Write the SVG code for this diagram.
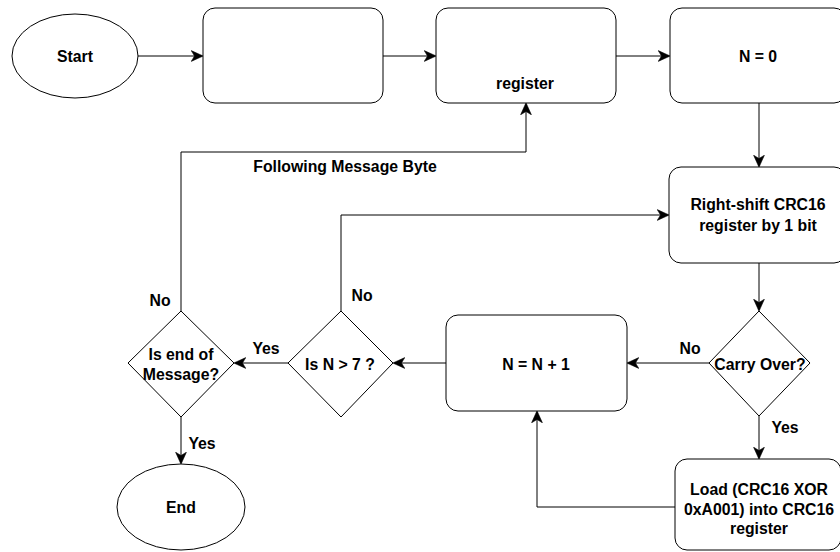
<svg xmlns="http://www.w3.org/2000/svg" width="840" height="552" viewBox="0 0 840 552">
  <style>
    .shape { fill: #ffffff; stroke: #000000; stroke-width: 1; }
    .edge { fill: none; stroke: #000000; stroke-width: 1; }
    text { font-family: "Liberation Sans", Arial, sans-serif; font-weight: bold; font-size: 15.8px; fill: #000000; text-anchor: middle; }
  </style>
  <defs>
    <marker id="arrow" markerUnits="userSpaceOnUse" markerWidth="12" markerHeight="12" viewBox="0 0 10 10" refX="9" refY="5" orient="auto">
      <path d="M0,0.5 L10,5 L0,9.5 L2.8,5 Z" fill="#000000" stroke="#000000" stroke-width="0.5"/>
    </marker>
  </defs>
  <rect width="840" height="552" fill="#ffffff"/>

  <!-- connectors -->
  <g id="connectors">
    <path class="edge" d="M138,56 H202" marker-end="url(#arrow)"/>
    <path class="edge" d="M383,56 H435" marker-end="url(#arrow)"/>
    <path class="edge" d="M616,56 H669" marker-end="url(#arrow)"/>
    <path class="edge" d="M759,103 V166" marker-end="url(#arrow)"/>
    <path class="edge" d="M759,263 V310" marker-end="url(#arrow)"/>
    <path class="edge" d="M709,363 H628" marker-end="url(#arrow)"/>
    <path class="edge" d="M759,416 V458" marker-end="url(#arrow)"/>
    <path class="edge" d="M675,507 H537 V412" marker-end="url(#arrow)"/>
    <path class="edge" d="M446,363 H394" marker-end="url(#arrow)"/>
    <path class="edge" d="M288,363 H235" marker-end="url(#arrow)"/>
    <path class="edge" d="M341,311 V215 H668" marker-end="url(#arrow)"/>
    <path class="edge" d="M181,311 V152 H526 V104" marker-end="url(#arrow)"/>
    <path class="edge" d="M181,417 V463" marker-end="url(#arrow)"/>
    <text x="690" y="354">No</text>
    <text x="785" y="433">Yes</text>
    <text x="266" y="354">Yes</text>
    <text x="202" y="449">Yes</text>
    <text x="160" y="306">No</text>
    <text x="362" y="301">No</text>
    <text x="345" y="172">Following Message Byte</text>
  </g>

  <g id="start">
    <ellipse class="shape" cx="75" cy="56" rx="63" ry="42"/>
    <text x="75" y="62">Start</text>
  </g>

  <g id="init-step">
    <rect class="shape" x="203" y="8" width="180" height="95" rx="12"/>
  </g>

  <g id="load-register">
    <rect class="shape" x="436" y="8" width="180" height="95" rx="12"/>
    <text x="525" y="89">register</text>
  </g>

  <g id="set-n">
    <rect class="shape" x="670" y="8" width="176" height="95" rx="12"/>
    <text x="758" y="62">N = 0</text>
  </g>

  <g id="shift">
    <rect class="shape" x="669" y="167" width="177" height="96" rx="12"/>
    <text x="758" y="210">Right-shift CRC16</text>
    <text x="758" y="231">register by 1 bit</text>
  </g>

  <g id="carry">
    <polygon class="shape" points="759,311 810,363 759,416 709,363"/>
    <text x="760" y="370">Carry Over?</text>
  </g>

  <g id="xor">
    <rect class="shape" x="675" y="459" width="166" height="91" rx="12"/>
    <text x="759" y="495">Load (CRC16 XOR</text>
    <text x="759" y="515">0xA001) into CRC16</text>
    <text x="759" y="534">register</text>
  </g>

  <g id="increment">
    <rect class="shape" x="446" y="315" width="181" height="96" rx="12"/>
    <text x="536" y="370">N = N + 1</text>
  </g>

  <g id="check-n">
    <polygon class="shape" points="341,311 393,363 341,417 288,363"/>
    <text x="340" y="370">Is N &gt; 7 ?</text>
  </g>

  <g id="check-end">
    <polygon class="shape" points="181,311 234,363 181,417 128,363"/>
    <text x="181" y="360">Is end of</text>
    <text x="181" y="380">Message?</text>
  </g>

  <g id="end">
    <ellipse class="shape" cx="181" cy="507" rx="64" ry="43"/>
    <text x="181" y="513">End</text>
  </g>
</svg>
